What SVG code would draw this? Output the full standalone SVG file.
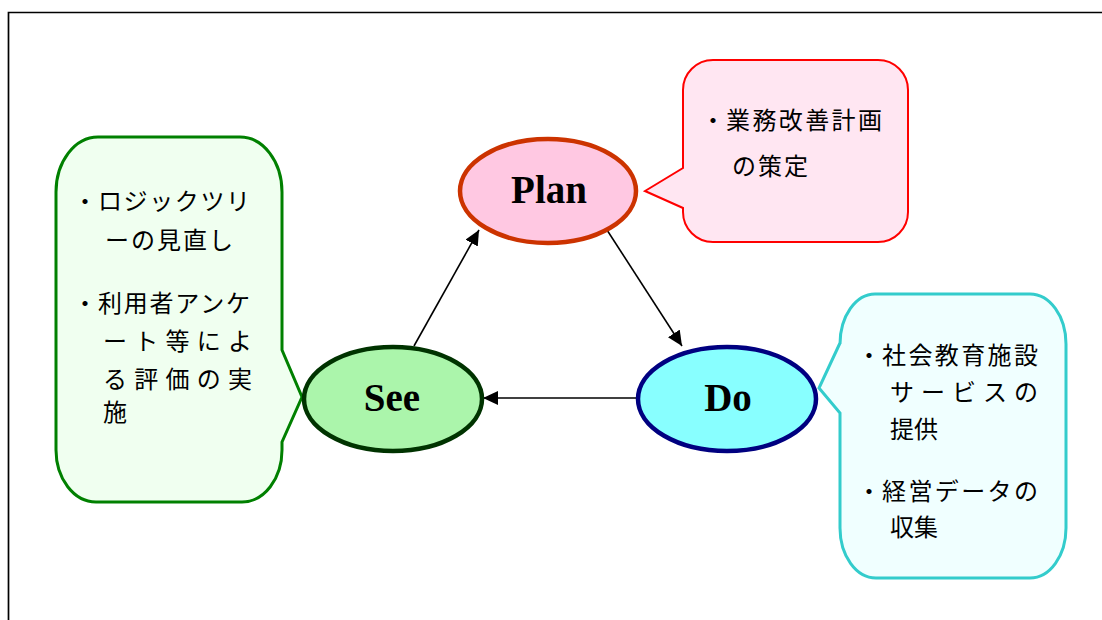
<svg xmlns="http://www.w3.org/2000/svg" width="1102" height="620" viewBox="0 0 1102 620">
<style>
.jp{font-family:"Noto Sans CJK JP","Noto Sans",sans-serif;font-size:24px;fill:#000}
.lbl{font-family:"Liberation Serif","Times New Roman",serif;font-size:39px;font-weight:bold;fill:#000;text-anchor:middle}
.conn{stroke:#000;stroke-width:1.6;fill:none;marker-end:url(#ah)}
</style>
<defs>
<marker id="ah" markerUnits="userSpaceOnUse" markerWidth="16" markerHeight="14" refX="15" refY="7" orient="auto">
<path d="M0,0 L15,7 L0,14 Z" fill="#000"/>
</marker>
</defs>
<rect width="1102" height="620" fill="#fff"/>
<path d="M8.5,620 V12.5 H1102" fill="none" stroke="#000" stroke-width="1.7"/>

<g id="plan-callout">
<path d="M713,60 H878 A30,30 0 0 1 908,90 V212 A30,30 0 0 1 878,242 H713 A30,30 0 0 1 683,212 V208 L645,191 L683,168 V90 A30,30 0 0 1 713,60 Z" fill="#FFE6F2" stroke="#FF0000" stroke-width="2"/>
<text class="jp" x="701" y="129">・</text>
<text class="jp" x="726" y="129" textLength="156" lengthAdjust="spacing">業務改善計画</text>
<text class="jp" x="732" y="175" textLength="76" lengthAdjust="spacing">の策定</text>
</g>

<g id="see-callout">
<path d="M98,137 H240 A42,55 0 0 1 282,192 V350 L302,397 L282,442 V450 A40,52 0 0 1 242,502 H96 A40,52 0 0 1 56,450 V192 A42,55 0 0 1 98,137 Z" fill="#F0FFF0" stroke="#008000" stroke-width="3"/>
<text class="jp" x="73" y="210">・</text>
<text class="jp" x="98" y="210" textLength="152" lengthAdjust="spacing">ロジックツリ</text>
<text class="jp" x="105" y="249" textLength="128" lengthAdjust="spacing">ーの見直し</text>
<text class="jp" x="73" y="312">・</text>
<text class="jp" x="98" y="312" textLength="152" lengthAdjust="spacing">利用者アンケ</text>
<text class="jp" x="103" y="350" textLength="149" lengthAdjust="spacing">ート等によ</text>
<text class="jp" x="103" y="388" textLength="149" lengthAdjust="spacing">る評価の実</text>
<text class="jp" x="103" y="421">施</text>
</g>

<g id="do-callout">
<path d="M875,294 H1030 A36,50 0 0 1 1066,344 V528 A36,50 0 0 1 1030,578 H876 A36,50 0 0 1 840,528 V413 L819,388 L840,343 V344 A35,50 0 0 1 875,294 Z" fill="#F0FFFF" stroke="#33CCCC" stroke-width="3"/>
<text class="jp" x="857" y="364">・</text>
<text class="jp" x="882" y="364" textLength="156" lengthAdjust="spacing">社会教育施設</text>
<text class="jp" x="890" y="401" textLength="148" lengthAdjust="spacing">サービスの</text>
<text class="jp" x="890" y="438" textLength="48" lengthAdjust="spacing">提供</text>
<text class="jp" x="857" y="500">・</text>
<text class="jp" x="882" y="500" textLength="156" lengthAdjust="spacing">経営データの</text>
<text class="jp" x="890" y="536" textLength="48" lengthAdjust="spacing">収集</text>
</g>

<g id="connectors">
<line class="conn" x1="414" y1="346" x2="479" y2="230"/>
<line class="conn" x1="607" y1="230" x2="682" y2="346"/>
<line class="conn" x1="637" y1="398" x2="483" y2="398"/>
</g>

<g id="plan">
<ellipse cx="548" cy="191" rx="88" ry="52" fill="#FFC8E2" stroke="#CC3300" stroke-width="4.5"/>
<text class="lbl" x="549" y="203">Plan</text>
</g>
<g id="see">
<ellipse cx="393" cy="399" rx="89" ry="52" fill="#ABF5AB" stroke="#003300" stroke-width="4.5"/>
<text class="lbl" x="392" y="411">See</text>
</g>
<g id="do">
<ellipse cx="727" cy="399" rx="89" ry="52" fill="#88FFFF" stroke="#000080" stroke-width="4.5"/>
<text class="lbl" x="728" y="411">Do</text>
</g>
</svg>
